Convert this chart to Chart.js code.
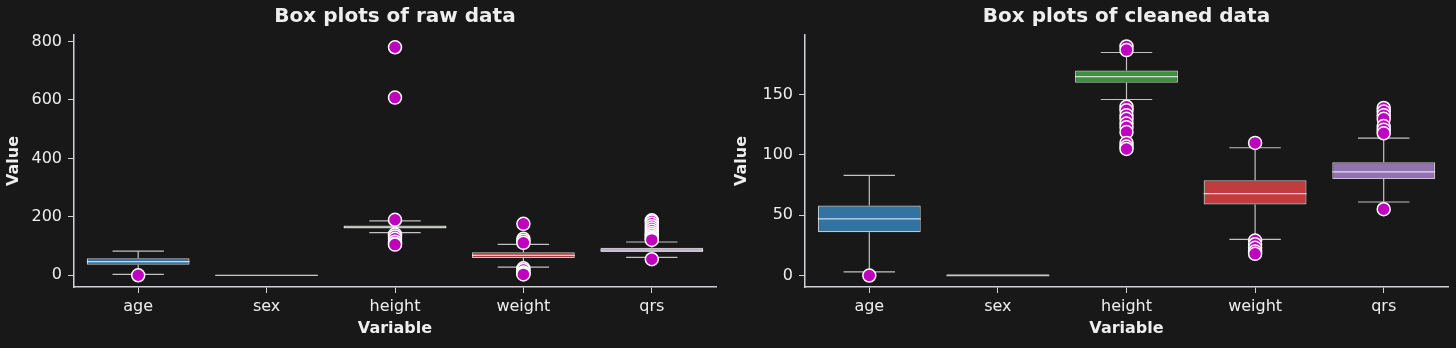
<!DOCTYPE html>
<html>
<head>
<meta charset="utf-8">
<script src="https://cdn.jsdelivr.net/npm/chart.js@4/dist/chart.umd.min.js"></script>
<style>
  html, body { margin: 0; padding: 0; background: #181818; }
  #wrap { position: relative; width: 1456px; height: 348px; }
  .panel { position: absolute; top: 0; width: 728px; height: 348px; }
</style>
</head>
<body>
<div id="wrap">
  <div class="panel" style="left:0"><canvas id="rawChart" width="728" height="348"></canvas></div>
  <div class="panel" style="left:728px"><canvas id="cleanChart" width="728" height="348"></canvas></div>
</div>
<script>
const categories = ["age", "sex", "height", "weight", "qrs"];
const boxColors = ["#3274a1", "#e1812c", "#3a923a", "#c03d3e", "#9372b2"];

// raw data summary
const rawQ1 = [36, 0, 160, 59, 80];
const rawMedian = [47, 0, 165, 68, 86];
const rawQ3 = [58, 1, 170, 79, 94];
const rawLow = [3, 0, 146, 28, 61];
const rawHigh = [83, 1, 186, 106, 114];
const rawOutAge = [0];
const rawOutHeight = [780, 608, 190, 140, 133, 125, 115, 108, 105];
const rawOutWeight = [176, 125, 118, 111, 24, 18, 10, 6, 3];
const rawOutQrs = [188, 184, 176, 168, 160, 152, 145, 139, 133, 128, 124, 121, 55];
const rawTicks = [0, 200, 400, 600, 800];

// cleaned data summary
const cleanQ1 = [36, 0, 160, 59, 80];
const cleanMedian = [47, 0, 165, 68, 86];
const cleanQ3 = [58, 1, 170, 79, 94];
const cleanLow = [3, 0, 146, 30, 61];
const cleanHigh = [83, 1, 185, 106, 114];
const cleanOutAge = [0];
const cleanOutHeight = [190, 187, 140, 137, 133, 130, 126, 123, 119, 110, 107, 105];
const cleanOutWeight = [110, 29, 26, 23, 20, 18];
const cleanOutQrs = [139, 136, 133, 130, 124, 121, 118, 55];
const cleanTicks = [0, 50, 100, 150];

const textColor = "#eeeeee";
const axisColor = "#cfd0da";
const whiskerColor = "rgba(225,225,225,0.85)";
const edgeColor = "rgba(255,255,255,0.75)";

function toPoints(cat, values) {
  return values.map(v => ({ x: cat, y: v }));
}

// whiskers, caps and median lines drawn on top of the scales
const boxWhiskers = {
  id: "boxWhiskers",
  beforeDatasetsDraw(chart, args, opts) {
    const meta = chart.getDatasetMeta(0);
    const yScale = chart.scales.y;
    const ctx = chart.ctx;
    ctx.save();
    ctx.strokeStyle = whiskerColor;
    ctx.lineWidth = 1.2;
    meta.data.forEach((bar, i) => {
      const x = bar.x;
      const half = bar.width / 4;
      const yLow = yScale.getPixelForValue(opts.low[i]);
      const yHigh = yScale.getPixelForValue(opts.high[i]);
      const yQ1 = yScale.getPixelForValue(opts.q1[i]);
      const yQ3 = yScale.getPixelForValue(opts.q3[i]);
      ctx.beginPath();
      ctx.moveTo(x, yLow); ctx.lineTo(x, yQ1);
      ctx.moveTo(x, yQ3); ctx.lineTo(x, yHigh);
      if (opts.low[i] < opts.q1[i]) { ctx.moveTo(x - half, yLow); ctx.lineTo(x + half, yLow); }
      if (opts.high[i] > opts.q3[i]) { ctx.moveTo(x - half, yHigh); ctx.lineTo(x + half, yHigh); }
      ctx.stroke();
    });
    ctx.restore();
  },
  afterDatasetDraw(chart, args, opts) {
    if (args.meta.type !== "bar") return;
    const yScale = chart.scales.y;
    const ctx = chart.ctx;
    ctx.save();
    ctx.strokeStyle = edgeColor;
    ctx.lineWidth = 1.2;
    args.meta.data.forEach((bar, i) => {
      const y = yScale.getPixelForValue(opts.median[i]);
      ctx.beginPath();
      ctx.moveTo(bar.x - bar.width / 2, y);
      ctx.lineTo(bar.x + bar.width / 2, y);
      ctx.stroke();
    });
    ctx.restore();
  }
};

function makeChart(id, cfg) {
  const outliers = [].concat(
    toPoints("age", cfg.outAge),
    toPoints("height", cfg.outHeight),
    toPoints("weight", cfg.outWeight),
    toPoints("qrs", cfg.outQrs)
  );
  return new Chart(document.getElementById(id), {
    type: "bar",
    data: {
      labels: categories,
      datasets: [
        {
          label: "box",
          order: 1,
          data: categories.map((c, i) => [cfg.q1[i], cfg.q3[i]]),
          backgroundColor: boxColors,
          borderColor: edgeColor,
          borderWidth: 1.2,
          borderSkipped: false,
          categoryPercentage: 0.8,
          barPercentage: 1.0
        },
        {
          type: "line",
          label: "outliers",
          order: 0,
          data: outliers,
          showLine: false,
          pointRadius: 6.5,
          pointBackgroundColor: "#bf00bf",
          pointBorderColor: "#ffffff",
          pointBorderWidth: 1.5
        }
      ]
    },
    options: {
      responsive: false,
      animation: false,
      devicePixelRatio: 1,
      layout: { padding: { left: 0, right: cfg.padRight, top: 0, bottom: 0 } },
      plugins: {
        legend: { display: false },
        tooltip: { enabled: false },
        title: {
          display: true,
          fullSize: false,
          text: cfg.title,
          color: textColor,
          font: { family: "DejaVu Sans", size: 20, weight: "bold" },
          padding: { top: 5, bottom: 6 }
        },
        boxWhiskers: { q1: cfg.q1, q3: cfg.q3, median: cfg.median, low: cfg.low, high: cfg.high }
      },
      scales: {
        x: {
          offset: true,
          grid: { display: true, drawOnChartArea: false, drawTicks: true, tickLength: 6, color: axisColor, offset: false },
          border: { display: true, color: axisColor, width: 1.5 },
          ticks: { color: textColor, font: { family: "DejaVu Sans", size: 16 }, padding: 4 },
          title: {
            display: true, text: "Variable", color: textColor,
            font: { family: "DejaVu Sans", size: 16, weight: "bold" },
            padding: { top: 0, bottom: 10 }
          },
          afterFit(scale) { scale.height = 61; }
        },
        y: {
          min: cfg.yMin,
          max: cfg.yMax,
          grid: { display: true, drawOnChartArea: false, drawTicks: true, tickLength: 6, color: axisColor },
          border: { display: true, color: axisColor, width: 1.5 },
          ticks: { color: textColor, font: { family: "DejaVu Sans", size: 16 }, padding: 6 },
          title: {
            display: true, text: "Value", color: textColor,
            font: { family: "DejaVu Sans", size: 16, weight: "bold" },
            padding: { top: 4, bottom: 0 }
          },
          afterBuildTicks(scale) { scale.ticks = cfg.ticks.map(v => ({ value: v })); },
          afterFit(scale) { scale.width = cfg.yWidth; }
        }
      }
    },
    plugins: [boxWhiskers]
  });
}

makeChart("rawChart", {
  title: "Box plots of raw data",
  q1: rawQ1, q3: rawQ3, median: rawMedian, low: rawLow, high: rawHigh,
  outAge: rawOutAge, outHeight: rawOutHeight, outWeight: rawOutWeight, outQrs: rawOutQrs,
  ticks: rawTicks, yMin: -40, yMax: 822, yWidth: 74, padRight: 12
});

makeChart("cleanChart", {
  title: "Box plots of cleaned data",
  q1: cleanQ1, q3: cleanQ3, median: cleanMedian, low: cleanLow, high: cleanHigh,
  outAge: cleanOutAge, outHeight: cleanOutHeight, outWeight: cleanOutWeight, outQrs: cleanOutQrs,
  ticks: cleanTicks, yMin: -9.5, yMax: 199.5, yWidth: 77, padRight: 8
});
</script>
</body>
</html>
